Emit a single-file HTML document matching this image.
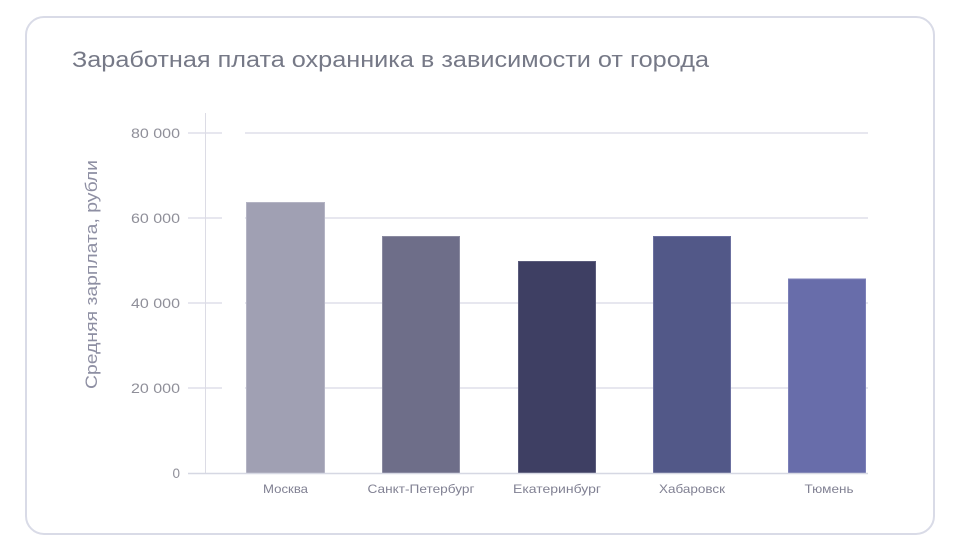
<!DOCTYPE html>
<html><head><meta charset="utf-8"><style>
html,body{margin:0;padding:0;background:#fff;}
svg{display:block;}
text{font-family:"Liberation Sans","DejaVu Sans",sans-serif;}
</style></head><body>
<svg width="961" height="550" viewBox="0 0 961 550" xmlns="http://www.w3.org/2000/svg">
<rect x="26" y="17" width="908" height="517" rx="18" ry="18" fill="#fff" stroke="#d9dbe7" stroke-width="2"/>
<text x="72" y="67" font-size="22" fill="#767987" textLength="637" lengthAdjust="spacingAndGlyphs">Заработная плата охранника в зависимости от города</text>
<g stroke="#e7e7ef" stroke-width="2">
<line x1="188" y1="133" x2="222" y2="133"/><line x1="245" y1="133" x2="868" y2="133"/>
<line x1="188" y1="218" x2="222" y2="218"/><line x1="245" y1="218" x2="868" y2="218"/>
<line x1="188" y1="303" x2="222" y2="303"/><line x1="245" y1="303" x2="868" y2="303"/>
<line x1="188" y1="388" x2="222" y2="388"/><line x1="245" y1="388" x2="868" y2="388"/>
</g>
<line x1="205.5" y1="113" x2="205.5" y2="473" stroke="#dcdce5" stroke-width="1"/>
<g font-size="13.5" fill="#8f8f99" text-anchor="end">
<text x="180" y="138" textLength="49" lengthAdjust="spacingAndGlyphs">80 000</text>
<text x="180" y="223" textLength="49" lengthAdjust="spacingAndGlyphs">60 000</text>
<text x="180" y="308" textLength="49" lengthAdjust="spacingAndGlyphs">40 000</text>
<text x="180" y="393" textLength="49" lengthAdjust="spacingAndGlyphs">20 000</text>
<text x="180" y="478">0</text>
</g>
<text transform="translate(97,274.5) rotate(-90)" font-size="17" fill="#8e8fa3" text-anchor="middle" textLength="229" lengthAdjust="spacingAndGlyphs">Средняя зарплата, рубли</text>
<g stroke-width="1">
<rect x="246.5" y="202.5" width="78" height="271" fill="#a0a0b3" stroke="#b4b4c4"/>
<rect x="382.5" y="236.5" width="77" height="237" fill="#6e6e89" stroke="#8a8aa0"/>
<rect x="518.5" y="261.5" width="77" height="212" fill="#3e3f63" stroke="#5a5b7b"/>
<rect x="653.5" y="236.5" width="77" height="237" fill="#525888" stroke="#6b70a0"/>
<rect x="788.5" y="279" width="77" height="194.5" fill="#686daa" stroke="#7c80b8"/>
</g>
<line x1="188" y1="473.5" x2="868" y2="473.5" stroke="#d6d8e3" stroke-width="1.5"/>
<g font-size="12" fill="#818193" text-anchor="middle">
<text x="285.5" y="493" textLength="45" lengthAdjust="spacingAndGlyphs">Москва</text>
<text x="421" y="493" textLength="107" lengthAdjust="spacingAndGlyphs">Санкт-Петербург</text>
<text x="557" y="493" textLength="88" lengthAdjust="spacingAndGlyphs">Екатеринбург</text>
<text x="692" y="493" textLength="66" lengthAdjust="spacingAndGlyphs">Хабаровск</text>
<text x="829" y="493" textLength="49" lengthAdjust="spacingAndGlyphs">Тюмень</text>
</g>
</svg>
</body></html>
